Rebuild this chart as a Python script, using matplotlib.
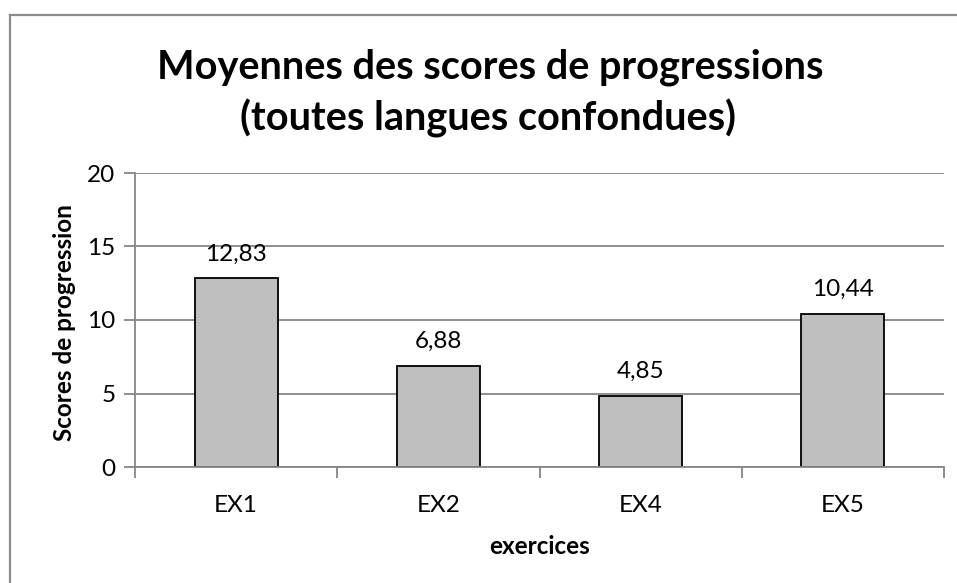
import matplotlib
matplotlib.use("Agg")
import matplotlib.pyplot as plt
from matplotlib.lines import Line2D

# Mean progression scores per exercise
categories = ["EX1", "EX2", "EX4", "EX5"]
scores = [12.83, 6.88, 4.85, 10.44]
y_ticks = [0, 5, 10, 15, 20]

plt.rcParams["font.family"] = ["Lato", "DejaVu Sans"]

W, H = 957, 583
fig = plt.figure(figsize=(W / 100, H / 100), dpi=100)
fig.patch.set_facecolor("white")

# Outer chart frame (top and left edges)
frame_col = "#8c8c8c"
fig.add_artist(Line2D([9.5 / W, 9.5 / W], [0, 1 - 15 / H], color=frame_col, lw=1.6,
                      transform=fig.transFigure))
fig.add_artist(Line2D([9.5 / W, 1], [1 - 15 / H, 1 - 15 / H], color=frame_col, lw=1.6,
                      transform=fig.transFigure))

left, right = 135 / W, 944 / W
bottom, top = 1 - 467 / H, 1 - 173 / H
ax = fig.add_axes([left, bottom, right - left, top - bottom])

grid_col = "#868686"
fs = 17.5
x = list(range(len(categories)))
bars = ax.bar(x, scores, width=0.41, color="#bfbfbf", edgecolor="black", linewidth=1.3, zorder=3)

ax.set_xlim(-0.5, len(categories) - 0.5)
ax.set_ylim(0, 20)
ax.set_yticks(y_ticks)
ax.set_yticklabels([str(t) for t in y_ticks], fontsize=fs)
ax.yaxis.grid(True, color=grid_col, linewidth=1.3, zorder=0)

# Category boundaries as major ticks, labels centred on minor ticks
ax.set_xticks([i - 0.5 for i in range(len(categories) + 1)])
ax.set_xticklabels([])
ax.set_xticks(x, minor=True)
ax.set_xticklabels(categories, minor=True, fontsize=fs)
ax.tick_params(axis="x", which="major", length=8, width=1.3, color=grid_col, direction="out")
ax.tick_params(axis="x", which="minor", length=0, pad=20)
ax.tick_params(axis="y", length=8, width=1.3, color=grid_col, direction="out", pad=6)

for side in ["top", "right"]:
    ax.spines[side].set_visible(False)
for side in ["left", "bottom"]:
    ax.spines[side].set_color(grid_col)
    ax.spines[side].set_linewidth(1.3)
    ax.spines[side].set_zorder(4)

for xi, v in zip(x, scores):
    ax.annotate(f"{v:.2f}".replace(".", ","), (xi, v), xytext=(0, 10),
                textcoords="offset points", ha="center", va="bottom", fontsize=fs)

ax.set_xlabel("exercices", fontsize=fs, fontweight="bold")
ax.xaxis.label.set_va("center")
ax.xaxis.set_label_coords(0.5, (467 - 546) / 294)
ax.set_ylabel("Scores de progression", fontsize=fs, fontweight="bold")
ax.yaxis.label.set_va("center")
ax.yaxis.set_label_coords((65 - 135) / 809, 0.49)

fig.text(490 / W, 1 - 67 / H, "Moyennes des scores de progressions", ha="center", va="center",
         fontsize=28.5, fontweight="bold")
fig.text(488 / W, 1 - 118 / H, "(toutes langues confondues)", ha="center", va="center",
         fontsize=28.5, fontweight="bold")

fig.savefig("out.png", dpi=100)
